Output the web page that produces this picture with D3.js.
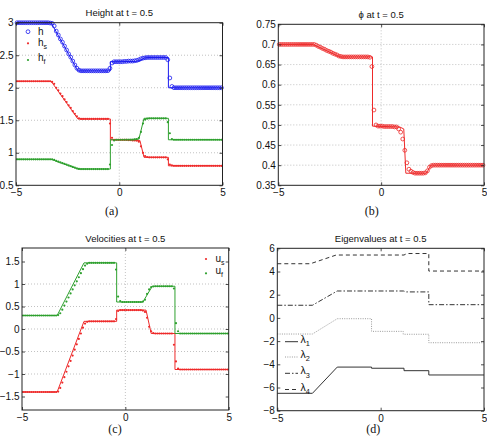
<!DOCTYPE html>
<html><head><meta charset="utf-8">
<script src="https://cdn.jsdelivr.net/npm/d3@7"></script>
<style>body{margin:0;background:#fff}svg{display:block}</style>
</head><body>
<svg id="chart" width="487" height="443"></svg>
<script>
// ---------- data ----------
const meshX = d3.range(-4.95, 5, 0.1); // numerical mesh (100 cells)
const xTicks = [-5, 0, 5];
const xTickLabels = ["\u22125", "0", "5"];

const yTicksA = [0.5, 1, 1.5, 2, 2.5, 3];
const yTickLabelsA = ["0.5", "1", "1.5", "2", "2.5", "3"];
const yTicksB = [0.35, 0.4, 0.45, 0.5, 0.55, 0.6, 0.65, 0.7, 0.75];
const yTickLabelsB = ["0.35", "0.4", "0.45", "0.5", "0.55", "0.6", "0.65", "0.7", "0.75"];
const yTicksC = [-1.5, -1, -0.5, 0, 0.5, 1, 1.5];
const yTickLabelsC = ["\u22121.5", "\u22121", "\u22120.5", "0", "0.5", "1", "1.5"];
const yTicksD = [-8, -6, -4, -2, 0, 2, 4, 6];
const yTickLabelsD = ["\u22128", "\u22126", "\u22124", "\u22122", "0", "2", "4", "6"];

// exact solution (lines), breakpoints [x, y]
const hLine  = [[-5,3],[-3.3,3],[-2.0,2.26],[-0.43,2.26],[-0.43,2.40],[0.8,2.405],[1.0,2.42],[1.2,2.455],[1.35,2.465],[2.38,2.465],[2.38,2.0],[5,2.0]];
const hsLine = [[-5,2.1],[-3.3,2.1],[-2.0,1.52],[-0.43,1.52],[-0.43,1.2],[1.0,1.19],[1.2,0.93],[2.38,0.93],[2.38,0.8],[5,0.8]];
const hfLine = [[-5,0.9],[-3.3,0.9],[-2.0,0.75],[-0.43,0.75],[-0.43,1.2],[0.95,1.21],[1.2,1.53],[2.38,1.53],[2.38,1.2],[5,1.2]];
const phiLine = [[-5,0.7],[-3.3,0.7],[-2.0,0.669],[-0.42,0.669],[-0.42,0.497],[0.9,0.495],[1.1,0.49],[1.2,0.38],[2.2,0.38],[2.42,0.4],[5,0.4]];
const usLine = [[-5,-1.4],[-3.3,-1.4],[-2.0,0.17],[-0.42,0.17],[-0.42,0.42],[1.0,0.42],[1.25,-0.1],[2.4,-0.1],[2.4,-0.9],[5,-0.9]];
const ufLine = [[-5,0.3],[-3.3,0.3],[-2.0,1.47],[-0.42,1.47],[-0.42,0.6],[0.85,0.6],[1.3,0.95],[2.4,0.95],[2.4,-0.1],[5,-0.1]];
const lambda1 = [[-5,-6.5],[-3.3,-6.5],[-2.1,-4.24],[-0.44,-4.24],[-0.44,-4.34],[1.13,-4.34],[1.13,-4.55],[2.33,-4.55],[2.33,-4.92],[5,-4.92]];
const lambda2 = [[-5,-1.39],[-3.3,-1.39],[-2.1,-0.07],[-0.44,-0.07],[-0.44,-1.16],[1.09,-1.16],[1.09,-1.41],[2.33,-1.41],[2.33,-2.14],[5,-2.14]];
const lambda3 = [[-5,1.09],[-3.3,1.09],[-2.1,2.32],[1.1,2.32],[1.25,2.24],[2.33,2.24],[2.33,1.14],[5,1.14]];
const lambda4 = [[-5,4.67],[-3.4,4.67],[-2.15,5.42],[1.13,5.42],[1.27,5.55],[2.33,5.55],[2.33,4.04],[5,4.04]];

// numerical solution (markers), one value per mesh cell
const hMarks = [
 3,3,3,3,3,3,3,3,3,3,
 3,3,3,3,3,3,2.995,2.99,2.95,2.87,
 2.81,2.75,2.70,2.64,2.58,2.52,2.47,2.41,2.35,2.30,
 2.27,2.26,2.26,2.26,2.26,2.26,2.26,2.26,2.26,2.26,
 2.26,2.26,2.26,2.26,2.262,2.30,2.38,2.40,2.40,2.40,
 2.40,2.40,2.405,2.405,2.41,2.41,2.41,2.415,2.42,2.43,
 2.445,2.455,2.46,2.465,2.465,2.465,2.465,2.465,2.465,2.465,
 2.465,2.465,2.465,2.43,2.15,2.02,2.0,2.0,2.0,2.0,
 2,2,2,2,2,2,2,2,2,2,
 2,2,2,2,2,2,2,2,2,2];
const hsMarks = [
 2.1,2.1,2.1,2.1,2.1,2.1,2.1,2.1,2.1,2.1,
 2.1,2.1,2.1,2.1,2.1,2.1,2.1,2.09,2.06,2.0,
 1.96,1.91,1.87,1.82,1.78,1.73,1.69,1.64,1.60,1.56,
 1.53,1.52,1.52,1.52,1.52,1.52,1.52,1.52,1.52,1.52,
 1.52,1.52,1.52,1.52,1.52,1.45,1.23,1.2,1.2,1.2,
 1.2,1.2,1.2,1.2,1.195,1.195,1.19,1.19,1.185,1.17,
 1.10,1.0,0.95,0.935,0.93,0.93,0.93,0.93,0.93,0.93,
 0.93,0.93,0.93,0.9,0.82,0.805,0.8,0.8,0.8,0.8,
 0.8,0.8,0.8,0.8,0.8,0.8,0.8,0.8,0.8,0.8,
 0.8,0.8,0.8,0.8,0.8,0.8,0.8,0.8,0.8,0.8];
const hfMarks = [
 0.9,0.9,0.9,0.9,0.9,0.9,0.9,0.9,0.9,0.9,
 0.9,0.9,0.9,0.9,0.9,0.9,0.9,0.899,0.89,0.875,
 0.864,0.852,0.84,0.83,0.818,0.806,0.795,0.783,0.772,0.76,
 0.752,0.75,0.75,0.75,0.75,0.75,0.75,0.75,0.75,0.75,
 0.75,0.75,0.75,0.75,0.75,0.82,1.12,1.19,1.2,1.2,
 1.2,1.2,1.2,1.2,1.2,1.2,1.2,1.205,1.21,1.23,
 1.32,1.45,1.51,1.525,1.53,1.53,1.53,1.53,1.53,1.53,
 1.53,1.53,1.53,1.47,1.30,1.21,1.2,1.2,1.2,1.2,
 1.2,1.2,1.2,1.2,1.2,1.2,1.2,1.2,1.2,1.2,
 1.2,1.2,1.2,1.2,1.2,1.2,1.2,1.2,1.2,1.2];
const phiMarks = [
 0.7,0.7,0.7,0.7,0.7,0.7,0.7,0.7,0.7,0.7,
 0.7,0.7,0.7,0.7,0.7,0.7,0.7,0.7,0.698,0.695,
 0.693,0.69,0.688,0.685,0.683,0.681,0.678,0.676,0.674,0.671,
 0.67,0.669,0.669,0.669,0.669,0.669,0.669,0.669,0.669,0.669,
 0.669,0.669,0.669,0.669,0.668,0.645,0.537,0.5,0.497,0.497,
 0.497,0.496,0.496,0.496,0.496,0.496,0.495,0.495,0.49,0.482,
 0.465,0.437,0.406,0.39,0.385,0.382,0.38,0.38,0.38,0.38,
 0.38,0.381,0.386,0.395,0.399,0.4,0.4,0.4,0.4,0.4,
 0.4,0.4,0.4,0.4,0.4,0.4,0.4,0.4,0.4,0.4,
 0.4,0.4,0.4,0.4,0.4,0.4,0.4,0.4,0.4,0.4];
const usMarks = [
 -1.4,-1.4,-1.4,-1.4,-1.4,-1.4,-1.4,-1.4,-1.4,-1.4,
 -1.4,-1.4,-1.4,-1.4,-1.4,-1.4,-1.4,-1.39,-1.31,-1.19,
 -1.07,-0.95,-0.83,-0.71,-0.59,-0.46,-0.34,-0.22,-0.10,0.03,
 0.12,0.16,0.17,0.17,0.17,0.17,0.17,0.17,0.17,0.17,
 0.17,0.17,0.17,0.17,0.17,0.22,0.40,0.42,0.42,0.42,
 0.42,0.42,0.42,0.42,0.42,0.42,0.42,0.42,0.41,0.38,
 0.25,0.05,-0.05,-0.09,-0.1,-0.1,-0.1,-0.1,-0.1,-0.1,
 -0.1,-0.1,-0.1,-0.35,-0.72,-0.88,-0.9,-0.9,-0.9,-0.9,
 -0.9,-0.9,-0.9,-0.9,-0.9,-0.9,-0.9,-0.9,-0.9,-0.9,
 -0.9,-0.9,-0.9,-0.9,-0.9,-0.9,-0.9,-0.9,-0.9,-0.9];
const ufMarks = [
 0.3,0.3,0.3,0.3,0.3,0.3,0.3,0.3,0.3,0.3,
 0.3,0.3,0.3,0.3,0.3,0.3,0.3,0.31,0.35,0.43,
 0.52,0.61,0.70,0.79,0.88,0.97,1.06,1.15,1.24,1.33,
 1.41,1.45,1.47,1.47,1.47,1.47,1.47,1.47,1.47,1.47,
 1.47,1.47,1.47,1.47,1.47,1.32,0.72,0.62,0.6,0.6,
 0.6,0.6,0.6,0.6,0.6,0.6,0.6,0.6,0.61,0.65,
 0.78,0.88,0.93,0.945,0.95,0.95,0.95,0.95,0.95,0.95,
 0.95,0.95,0.95,0.90,0.13,-0.05,-0.1,-0.1,-0.1,-0.1,
 -0.1,-0.1,-0.1,-0.1,-0.1,-0.1,-0.1,-0.1,-0.1,-0.1,
 -0.1,-0.1,-0.1,-0.1,-0.1,-0.1,-0.1,-0.1,-0.1,-0.1];

// ---------- drawing ----------
const BLUE = "#1c1cf0", RED = "#ee2a2a", GREEN = "#2ea02e";
const FONT = "'Liberation Sans', Arial, Helvetica, sans-serif";
const SERIF = "'Liberation Serif', 'Times New Roman', serif";
const svg = d3.select("#chart");

function panel(cfg) {
  const g = svg.append("g");
  const x = d3.scaleLinear().domain([-5, 5]).range([cfg.x0, cfg.x1]);
  const y = d3.scaleLinear().domain(cfg.yDomain).range([cfg.y1, cfg.y0]);

  if (cfg.grid) {
    g.selectAll(".gx").data(xTicks.slice(1, -1)).join("line")
      .attr("x1", d => x(d)).attr("x2", d => x(d)).attr("y1", cfg.y0).attr("y2", cfg.y1)
      .attr("stroke", "#a8a8a8").attr("stroke-width", 0.7).attr("stroke-dasharray", "1,2");
    g.selectAll(".gy").data(cfg.yTicks.slice(1, -1)).join("line")
      .attr("y1", d => y(d)).attr("y2", d => y(d)).attr("x1", cfg.x0).attr("x2", cfg.x1)
      .attr("stroke", "#a8a8a8").attr("stroke-width", 0.7).attr("stroke-dasharray", "1,2");
  }

  const line = d3.line().x(d => x(d[0])).y(d => y(d[1]));
  (cfg.lines || []).forEach(s => {
    g.append("path").attr("d", line(s.data)).attr("fill", "none")
      .attr("stroke", s.color).attr("stroke-width", s.width || 1)
      .attr("stroke-dasharray", s.dash || null);
  });
  (cfg.marks || []).forEach(s => {
    const pts = meshX.map((xv, i) => [xv, s.data[i]]);
    g.append("g").selectAll("circle").data(pts).join("circle")
      .attr("cx", d => x(d[0])).attr("cy", d => y(d[1]))
      .attr("r", s.open ? 1.9 : 1.1)
      .attr("fill", s.open ? "none" : s.color)
      .attr("stroke", s.open ? s.color : "none")
      .attr("stroke-width", 0.8);
  });

  // axes with inward ticks
  const bottom = d3.axisBottom(x).tickValues(xTicks).tickFormat((d, i) => xTickLabels[i])
    .tickSizeInner(-3).tickSizeOuter(0).tickPadding(4);
  const top = d3.axisTop(x).tickValues(xTicks).tickFormat("").tickSizeInner(-3).tickSizeOuter(0);
  const left = d3.axisLeft(y).tickValues(cfg.yTicks).tickFormat((d, i) => cfg.yTickLabels[i])
    .tickSizeInner(-3).tickSizeOuter(0).tickPadding(2.5);
  const right = d3.axisRight(y).tickValues(cfg.yTicks).tickFormat("").tickSizeInner(-3).tickSizeOuter(0);
  [[bottom, `translate(0,${cfg.y1})`], [top, `translate(0,${cfg.y0})`],
   [left, `translate(${cfg.x0},0)`], [right, `translate(${cfg.x1},0)`]].forEach(([ax, tr]) => {
    const a = g.append("g").attr("transform", tr).call(ax);
    a.select(".domain").remove();
    a.selectAll("line").attr("stroke", "#222").attr("stroke-width", 0.8);
    a.selectAll("text").attr("font-family", FONT).attr("font-size", 10).attr("fill", "#111");
  });
  g.append("rect").attr("x", cfg.x0).attr("y", cfg.y0)
    .attr("width", cfg.x1 - cfg.x0).attr("height", cfg.y1 - cfg.y0)
    .attr("fill", "none").attr("stroke", "#222").attr("stroke-width", 1);

  g.append("text").attr("x", (cfg.x0 + cfg.x1) / 2).attr("y", cfg.y0 - 6.5)
    .attr("text-anchor", "middle").attr("font-family", FONT).attr("font-size", 9.5)
    .attr("fill", "#111").text(cfg.title);
  g.append("text").attr("x", cfg.capX).attr("y", cfg.capY)
    .attr("text-anchor", "middle").attr("font-family", SERIF).attr("font-size", 12)
    .attr("fill", "#111").text(cfg.caption);
  return { g, x, y };
}

function subLabel(g, xPos, yPos, main, sub, size) {
  const s = size || 10;
  const t = g.append("text").attr("x", xPos).attr("y", yPos)
    .attr("font-family", FONT).attr("font-size", s).attr("fill", "#111");
  t.append("tspan").text(main);
  t.append("tspan").attr("dy", 3.2).attr("font-size", s * 0.7).text(sub);
}

// (a)
const A = panel({ x0: 16, x1: 222.5, y0: 22.7, y1: 185.3, yDomain: [0.5, 3],
  yTicks: yTicksA, yTickLabels: yTickLabelsA, grid: true,
  title: "Height at t = 0.5", caption: "(a)", capX: 111.7, capY: 214.5,
  lines: [{ data: hLine, color: BLUE }, { data: hsLine, color: RED }, { data: hfLine, color: GREEN }],
  marks: [{ data: hMarks, color: BLUE, open: true }, { data: hsMarks, color: RED }, { data: hfMarks, color: GREEN }] });
A.g.append("circle").attr("cx", 28).attr("cy", 31.7).attr("r", 1.9).attr("fill", "none").attr("stroke", BLUE).attr("stroke-width", 0.8);
A.g.append("circle").attr("cx", 28).attr("cy", 43.3).attr("r", 1.1).attr("fill", RED);
A.g.append("circle").attr("cx", 28).attr("cy", 60).attr("r", 1.1).attr("fill", GREEN);
A.g.append("text").attr("x", 38).attr("y", 34.5).attr("font-family", FONT).attr("font-size", 10).attr("fill", "#111").text("h");
subLabel(A.g, 38, 45.5, "h", "s");
subLabel(A.g, 38, 60.5, "h", "f");

// (b)
panel({ x0: 278.3, x1: 484, y0: 24.3, y1: 185.3, yDomain: [0.35, 0.75],
  yTicks: yTicksB, yTickLabels: yTickLabelsB, grid: true,
  title: "\u03D5 at t = 0.5", caption: "(b)", capX: 371.7, capY: 214.5,
  lines: [{ data: phiLine, color: RED }],
  marks: [{ data: phiMarks, color: RED, open: true }] });

// (c)
const C = panel({ x0: 22, x1: 228.7, y0: 248, y1: 410, yDomain: [-1.8, 1.8],
  yTicks: yTicksC, yTickLabels: yTickLabelsC, grid: true,
  title: "Velocities at t = 0.5", caption: "(c)", capX: 115, capY: 433,
  lines: [{ data: usLine, color: RED }, { data: ufLine, color: GREEN }],
  marks: [{ data: usMarks, color: RED }, { data: ufMarks, color: GREEN }] });
C.g.append("circle").attr("cx", 206).attr("cy", 259).attr("r", 1.1).attr("fill", RED);
C.g.append("circle").attr("cx", 206).attr("cy", 273.3).attr("r", 1.1).attr("fill", GREEN);
subLabel(C.g, 215.5, 261.5, "u", "s");
subLabel(C.g, 215.5, 274, "u", "f");

// (d)
const D = panel({ x0: 277.3, x1: 484, y0: 248.3, y1: 410.7, yDomain: [-8, 6],
  yTicks: yTicksD, yTickLabels: yTickLabelsD, grid: false,
  title: "Eigenvalues at t = 0.5", caption: "(d)", capX: 373.3, capY: 433,
  lines: [
    { data: lambda1, color: "#333" },
    { data: lambda2, color: "#9a9a9a", dash: "1,1.3" },
    { data: lambda3, color: "#333", dash: "5,2,1.5,2" },
    { data: lambda4, color: "#333", dash: "4,3" }] });
const legD = [
  { name: "1", color: "#333", dash: null, y: 341.7 },
  { name: "2", color: "#9a9a9a", dash: "1,1.3", y: 357 },
  { name: "3", color: "#333", dash: "5,2,1.5,2", y: 373.3 },
  { name: "4", color: "#333", dash: "4,3", y: 389.5 }];
legD.forEach(l => {
  D.g.append("line").attr("x1", 285).attr("x2", 298).attr("y1", l.y).attr("y2", l.y)
    .attr("stroke", l.color).attr("stroke-width", 1).attr("stroke-dasharray", l.dash);
  subLabel(D.g, 300.5, l.y + 1, "\u03BB", l.name, 10.5);
});
</script>
</body></html>
